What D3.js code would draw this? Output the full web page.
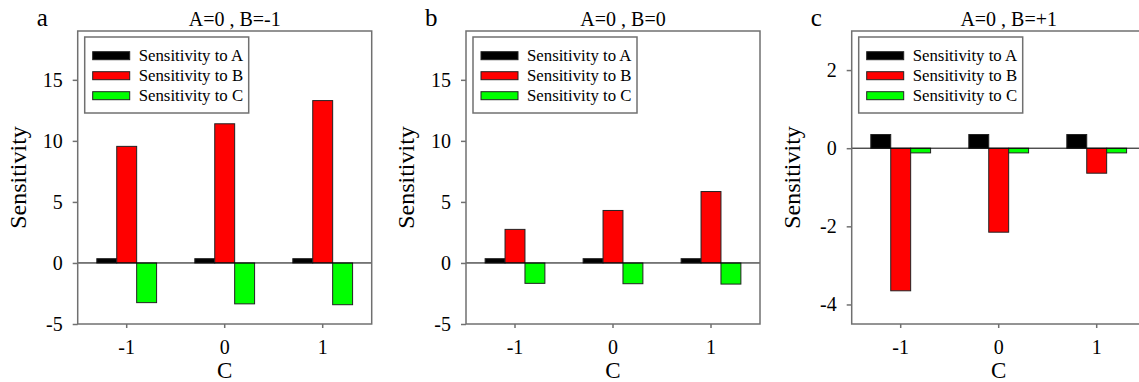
<!DOCTYPE html>
<html>
<head>
<meta charset="utf-8">
<script src="https://cdn.jsdelivr.net/npm/d3@7"></script>
<style>
  html, body { margin: 0; padding: 0; background: #fff; }
  svg { display: block; }
  text { font-family: "Liberation Serif", "Times New Roman", serif; fill: #000; }
</style>
</head>
<body>
<svg id="chart" width="1139" height="382"></svg>
<script>
// Categories on the x axis (value of C)
const categories = ["-1", "0", "1"];
const seriesNames = ["Sensitivity to A", "Sensitivity to B", "Sensitivity to C"];
const seriesColors = ["#000000", "#ff0000", "#00ff00"];

// Panel a: A=0, B=-1
const sensA_a = [0.35, 0.35, 0.35];
const sensB_a = [9.55, 11.4, 13.3];
const sensC_a = [-3.25, -3.35, -3.42];

// Panel b: A=0, B=0
const sensA_b = [0.35, 0.35, 0.35];
const sensB_b = [2.75, 4.3, 5.85];
const sensC_b = [-1.67, -1.7, -1.73];

// Panel c: A=0, B=+1
const sensA_c = [0.35, 0.35, 0.35];
const sensB_c = [-3.65, -2.15, -0.64];
const sensC_c = [-0.12, -0.12, -0.12];

// Y tick values
const ticksAB = [-5, 0, 5, 10, 15];
const ticksC = [-4, -2, 0, 2];

const panels = [
  { letter: "a", title: "A=0 , B=-1", series: [sensA_a, sensB_a, sensC_a], domain: [-5, 19], ticks: ticksAB, left: 77.7 },
  { letter: "b", title: "A=0 , B=0",  series: [sensA_b, sensB_b, sensC_b], domain: [-5, 19], ticks: ticksAB, left: 466 },
  { letter: "c", title: "A=0 , B=+1", series: [sensA_c, sensB_c, sensC_c], domain: [-4.5, 3], ticks: ticksC, left: 851.7 }
];

const svg = d3.select("#chart");
const plotTop = 31, plotBottom = 324, plotW = 294;
const frameColor = "#707070";
const serif = "'Liberation Serif', 'Times New Roman', serif";

panels.forEach(p => {
  const g = svg.append("g");
  const x = d3.scaleBand().domain(categories).range([p.left, p.left + plotW]).padding(0);
  const groupW = x.bandwidth() * 0.61;
  const xs = d3.scaleBand().domain(seriesNames).range([0, groupW]).padding(0);
  const y = d3.scaleLinear().domain(p.domain).range([plotBottom, plotTop]);

  // bars
  p.series.forEach((vals, si) => {
    g.selectAll(null)
      .data(vals)
      .enter()
      .append("rect")
      .attr("x", (d, i) => x(categories[i]) + (x.bandwidth() - groupW) / 2 + xs(seriesNames[si]))
      .attr("width", xs.bandwidth())
      .attr("y", d => y(Math.max(0, d)))
      .attr("height", d => Math.abs(y(d) - y(0)))
      .attr("fill", seriesColors[si])
      .attr("stroke", "#222")
      .attr("stroke-width", 1);
  });

  // zero line
  g.append("line")
    .attr("x1", p.left).attr("x2", p.left + plotW)
    .attr("y1", y(0)).attr("y2", y(0))
    .attr("stroke", "#000").attr("stroke-width", 1);

  // frame
  g.append("rect")
    .attr("x", p.left).attr("y", plotTop)
    .attr("width", plotW).attr("height", plotBottom - plotTop)
    .attr("fill", "none").attr("stroke", frameColor).attr("stroke-width", 1.5);

  // y axis
  const ya = g.append("g")
    .attr("transform", `translate(${p.left},0)`)
    .call(d3.axisLeft(y).tickValues(p.ticks).tickSize(5).tickPadding(10).tickFormat(d => String(d)))
    .attr("font-family", serif).attr("font-size", 20);
  ya.select(".domain").remove();
  ya.selectAll(".tick line").attr("stroke", frameColor).attr("stroke-width", 1.5);
  ya.selectAll(".tick text").attr("fill", "#000");

  // x axis
  const xa = g.append("g")
    .attr("transform", `translate(0,${plotBottom})`)
    .call(d3.axisBottom(x).tickSize(4).tickPadding(12))
    .attr("font-family", serif).attr("font-size", 20);
  xa.select(".domain").remove();
  xa.selectAll(".tick line").attr("stroke", frameColor).attr("stroke-width", 1.5);
  xa.selectAll(".tick text").attr("fill", "#000");

  // axis titles
  g.append("text")
    .attr("x", p.left + plotW / 2).attr("y", 378)
    .attr("text-anchor", "middle")
    .style("font-size", "23px")
    .text("C");
  g.append("text")
    .attr("transform", `translate(${p.left - 52},${(plotTop + plotBottom) / 2}) rotate(-90)`)
    .attr("text-anchor", "middle")
    .style("font-size", "24px")
    .text("Sensitivity");

  // panel title and letter
  g.append("text")
    .attr("x", p.left + plotW / 2 + 10).attr("y", 26)
    .attr("text-anchor", "middle")
    .style("font-size", "20px")
    .text(p.title);
  g.append("text")
    .attr("x", p.left - 41).attr("y", 26)
    .style("font-size", "25px")
    .text(p.letter);

  // legend
  const lg = g.append("g").attr("transform", `translate(${p.left + 7},${plotTop + 6})`);
  lg.append("rect")
    .attr("width", 164).attr("height", 76)
    .attr("fill", "#fff").attr("stroke", frameColor).attr("stroke-width", 1.5);
  seriesNames.forEach((name, i) => {
    const cy = 18.7 + i * 20;
    lg.append("rect")
      .attr("x", 8).attr("y", cy - 4).attr("width", 37).attr("height", 8)
      .attr("fill", seriesColors[i]).attr("stroke", "#222").attr("stroke-width", 1);
    lg.append("text")
      .attr("x", 54).attr("y", cy + 5.5)
      .style("font-size", "16.8px")
      .text(name);
  });
});
</script>
</body>
</html>
